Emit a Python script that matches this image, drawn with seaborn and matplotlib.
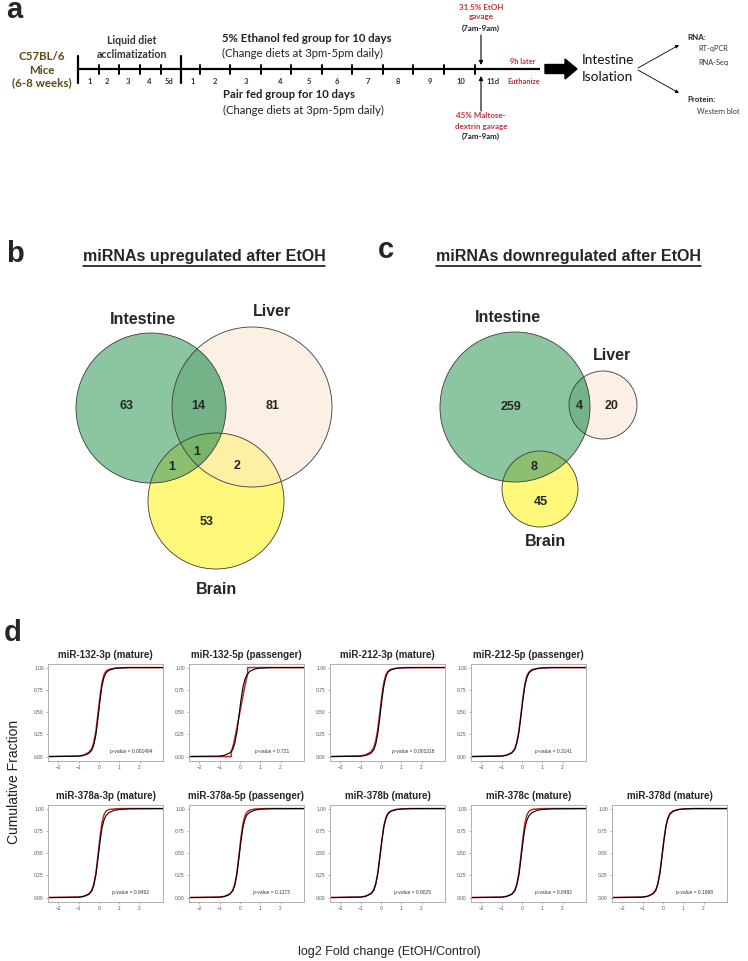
import numpy as np
import matplotlib
matplotlib.use("Agg")
import matplotlib.pyplot as plt
from matplotlib.patches import Circle, Polygon, FancyArrow
import seaborn as sns

# ---------------- data ----------------
# (a) study design timeline
acclim_days = ["1", "2", "3", "4", "5d"]
feeding_days = ["1", "2", "3", "4", "5", "6", "7", "8", "9", "10", "11d"]

# (b) miRNAs upregulated after EtOH (I = intestine, L = liver, B = brain)
up_regions = ["I", "IL", "L", "ILB", "IB", "LB", "B"]
up_counts = [63, 14, 81, 1, 1, 2, 53]

# (c) miRNAs downregulated after EtOH
down_regions = ["I", "IL", "L", "IB", "B"]
down_counts = [259, 4, 20, 8, 45]

# (d) cumulative fraction of log2 fold change
mirna_names = [
    "miR-132-3p (mature)", "miR-132-5p (passenger)", "miR-212-3p (mature)",
    "miR-212-5p (passenger)", "miR-378a-3p (mature)", "miR-378a-5p (passenger)",
    "miR-378b (mature)", "miR-378c (mature)", "miR-378d (mature)",
]
p_values = ["0.001494", "0.721", "0.001318", "0.3141", "0.8492",
            "0.1373", "0.8025", "0.8492", "0.1068"]

cdf_x = [-2.5, -1.0, -0.75, -0.5, -0.35, -0.25, -0.15, -0.05, 0.05,
         0.15, 0.25, 0.35, 0.5, 0.75, 1.0, 1.5, 3.15]

all_genes_cdf = [
    [0, .004, .012, .035, .07, .13, .24, .42, .62, .79, .89, .94, .97, .988, .995, .999, 1],
    [0, .005, .015, .04, .08, .15, .27, .45, .63, .78, .87, .92, .96, .985, .994, .999, 1],
    [0, .004, .012, .035, .075, .14, .26, .44, .64, .80, .90, .95, .975, .99, .996, .999, 1],
    [0, .005, .014, .04, .08, .15, .27, .45, .64, .80, .89, .94, .97, .988, .995, .999, 1],
    [0, .004, .012, .035, .075, .14, .25, .43, .62, .78, .87, .92, .955, .98, .99, .997, 1],
    [0, .004, .012, .036, .076, .14, .26, .44, .63, .79, .88, .93, .96, .983, .993, .998, 1],
    [0, .005, .014, .04, .08, .15, .27, .45, .64, .80, .89, .94, .97, .988, .995, .999, 1],
    [0, .004, .012, .035, .075, .14, .25, .43, .62, .78, .87, .92, .955, .98, .99, .997, 1],
    [0, .005, .014, .04, .08, .15, .27, .45, .64, .80, .89, .94, .97, .988, .995, .999, 1],
]
target_cdf = [
    [0, .006, .016, .045, .09, .16, .28, .47, .67, .83, .92, .96, .98, .992, .997, 1, 1],
    None,
    [0, .007, .02, .05, .10, .18, .31, .50, .69, .84, .92, .96, .982, .993, .998, 1, 1],
    [0, .006, .016, .043, .085, .16, .28, .46, .66, .82, .91, .95, .978, .99, .996, 1, 1],
    [0, .005, .014, .04, .08, .15, .27, .46, .67, .84, .93, .97, .99, .996, .999, 1, 1],
    [0, .005, .014, .04, .08, .15, .27, .46, .67, .83, .92, .96, .985, .995, .998, 1, 1],
    [0, .006, .016, .044, .087, .16, .28, .46, .65, .81, .90, .95, .975, .99, .996, 1, 1],
    [0, .005, .014, .04, .08, .15, .27, .46, .67, .84, .93, .97, .99, .996, .999, 1, 1],
    [0, .005, .015, .042, .083, .155, .275, .455, .645, .805, .895, .945, .972, .989, .996, 1, 1],
]
# miR-132-5p has only a handful of targets -> step-like curve
passenger_x = [-2.5, -0.42, -0.42, -0.3, -0.15, 0.0, 0.15, 0.3, 0.38, 0.38, 3.15]
passenger_y = [0, 0, 0.05, 0.15, 0.32, 0.5, 0.68, 0.85, 0.93, 1.0, 1.0]

# ---------------- style ----------------
sns.set_theme(style="white")
plt.rcParams["font.family"] = ["Liberation Sans", "DejaVu Sans"]
CALIBRI = ["Lato", "DejaVu Sans"]
RED_TXT = "#c0323c"
RED_LINE = "#c62828"

W, H = 748, 961
fig = plt.figure(figsize=(W / 100, H / 100), dpi=100)
bg = fig.add_axes([0, 0, 1, 1])
bg.set_xlim(0, W)
bg.set_ylim(H, 0)
bg.axis("off")

# panel letters
for lab, (x, y) in zip("abcd", [(14, 18), (15, 262), (386, 258), (13, 641)]):
    bg.text(x, y, lab, fontsize=21, fontweight="bold", ha="center", va="baseline")

# ---------------- (a) timeline ----------------
line_y = 69
bg.plot([78, 540], [line_y, line_y], color="black", lw=1.6, solid_capstyle="butt")
for x in [78, 181]:
    bg.plot([x, x], [56, 83], color="black", lw=1.6)
small_ticks = [99, 119, 140, 161, 200, 230, 261, 291, 322, 352, 383, 413, 444, 475]
for x in small_ticks:
    bg.plot([x, x], [64.5, 73.5], color="black", lw=1.4)

acclim_x = [90, 107, 128, 149, 169]
feed_x = [193, 215, 246, 280, 309, 337, 368, 398, 430, 461, 493]
for d, x in zip(acclim_days + feeding_days, acclim_x + feed_x):
    bg.text(x, 81, d, fontsize=5.5, fontweight="bold", family=CALIBRI,
            ha="center", va="center", color="#333333")

for txt, y in [("C57BL/6", 57), ("Mice", 70), ("(6-8 weeks)", 83)]:
    bg.text(42, y, txt, fontsize=8.3, fontweight="bold", family=CALIBRI,
            ha="center", va="center", color="#5b4a16")
for txt, y in [("Liquid diet", 40), ("acclimatization", 55)]:
    bg.text(132, y, txt, fontsize=7.6, fontweight="bold", family=CALIBRI,
            ha="center", va="center", color="#333333")

bg.text(222, 38, "5% Ethanol fed group for 10 days", fontsize=8.2, fontweight="bold",
        family=CALIBRI, va="center", color="#222222")
bg.text(222, 53, "(Change diets at 3pm-5pm daily)", fontsize=8.2,
        family=CALIBRI, va="center", color="#222222")
bg.text(223, 95, "Pair fed group for 10 days", fontsize=8.2, fontweight="bold",
        family=CALIBRI, va="center", color="#222222")
bg.text(223, 110, "(Change diets at 3pm-5pm daily)", fontsize=8.2,
        family=CALIBRI, va="center", color="#222222")

# gavage notes
for txt, y, c in [("31.5% EtOH", 7, RED_TXT), ("gavage", 17, RED_TXT), ("(7am-9am)", 28, "#222222"),
                  ("45% Maltose-", 116, RED_TXT), ("dextrin gavage", 126, RED_TXT),
                  ("(7am-9am)", 136, "#222222")]:
    bg.text(481, y, txt, fontsize=5.8, fontweight="bold", family=CALIBRI,
            ha="center", va="center", color=c)
arrow_kw = dict(arrowstyle="-|>", lw=0.8, color="black", mutation_scale=6, shrinkA=0, shrinkB=0)
bg.annotate("", xy=(481, 65), xytext=(481, 35), arrowprops=arrow_kw)
bg.annotate("", xy=(481, 76), xytext=(481, 111), arrowprops=arrow_kw)

bg.text(523, 61, "9h later", fontsize=5.3, fontweight="bold", family=CALIBRI,
        ha="center", va="center", color=RED_TXT)
bg.text(524, 81, "Euthanize", fontsize=5.3, fontweight="bold", family=CALIBRI,
        ha="center", va="center", color=RED_TXT)

bg.add_patch(FancyArrow(545, line_y, 20, 0, width=9, head_width=20, head_length=12,
                        color="black", length_includes_head=False))
bg.text(582, 60, "Intestine", fontsize=9.8, family=CALIBRI, va="center", color="#111111")
bg.text(582, 77, "Isolation", fontsize=9.8, family=CALIBRI, va="center", color="#111111")

thin_kw = dict(arrowstyle="-|>", lw=0.6, color="black", mutation_scale=5, shrinkA=0, shrinkB=0)
bg.annotate("", xy=(679, 45), xytext=(638, 68), arrowprops=thin_kw)
bg.annotate("", xy=(679, 93), xytext=(638, 70), arrowprops=thin_kw)

bg.text(687, 37, "RNA:", fontsize=5.8, fontweight="bold", family=CALIBRI, va="center")
bg.text(713, 49, "RT-qPCR", fontsize=5.3, family=CALIBRI, ha="center", va="center", color="#333333")
bg.text(713, 62, "RNA-Seq", fontsize=5.3, family=CALIBRI, ha="center", va="center", color="#333333")
bg.text(687, 99, "Protein:", fontsize=5.8, fontweight="bold", family=CALIBRI, va="center")
bg.text(697, 111, "Western blot", fontsize=5.3, family=CALIBRI, ha="left", va="center", color="#333333")

# ---------------- (b, c) Venn diagrams ----------------
fill_col = {"I": "#8cc6a0", "L": "#fcefe4", "B": "#fff87a",
            "IL": "#74b288", "IB": "#8cc070", "LB": "#fdf0a5", "ILB": "#78b46a"}


def circle_pts(c, n=500):
    t = np.linspace(0, 2 * np.pi, n)
    return np.column_stack([c[0] + c[2] * np.cos(t), c[1] + c[2] * np.sin(t)])


def lens(c1, c2):
    p1, p2 = circle_pts(c1), circle_pts(c2)
    a = p1[np.hypot(p1[:, 0] - c2[0], p1[:, 1] - c2[1]) <= c2[2]]
    b = p2[np.hypot(p2[:, 0] - c1[0], p2[:, 1] - c1[1]) <= c1[2]]
    pts = np.vstack([a, b])
    cen = pts.mean(axis=0)
    return pts[np.argsort(np.arctan2(pts[:, 1] - cen[1], pts[:, 0] - cen[0]))]


def draw_venn(circ, regions, counts, num_pos, labels):
    for k in ["L", "I", "B"]:
        bg.add_patch(Circle(circ[k][:2], circ[k][2], fc=fill_col[k], ec="none", zorder=1))
    for reg in regions:
        if len(reg) != 2:
            continue
        a, b = reg
        p = Circle(circ[b][:2], circ[b][2], fc=fill_col[reg], ec="none", zorder=2)
        bg.add_patch(p)
        p.set_clip_path(Circle(circ[a][:2], circ[a][2], transform=bg.transData))
    if "ILB" in regions:
        p = Circle(circ["B"][:2], circ["B"][2], fc=fill_col["ILB"], ec="none", zorder=3)
        bg.add_patch(p)
        p.set_clip_path(Polygon(lens(circ["I"], circ["L"]), transform=bg.transData))
    for k in ["I", "L", "B"]:
        bg.add_patch(Circle(circ[k][:2], circ[k][2], fc="none", ec="#3a3a3a", lw=0.6, zorder=4))
    for reg, n in zip(regions, counts):
        x, y = num_pos[reg]
        bg.text(x, y, str(n), fontsize=9, fontweight="bold", ha="center", va="center", zorder=5)
    for txt, (x, y) in labels:
        bg.text(x, y, txt, fontsize=11.5, fontweight="bold", ha="center", va="center")


up_circ = {"I": (151, 408, 75), "L": (252, 407, 80), "B": (216, 501, 68)}
up_pos = {"I": (127, 406), "IL": (198, 406), "L": (273, 406), "ILB": (197, 452),
          "IB": (172, 467), "LB": (237, 466), "B": (207, 522)}
draw_venn(up_circ, up_regions, up_counts, up_pos,
          [("Intestine", (143, 319)), ("Liver", (272, 312)), ("Brain", (217, 590))])

down_circ = {"I": (515, 407, 75), "L": (603, 405, 34), "B": (540, 489, 38)}
down_pos = {"I": (511, 407), "IL": (579, 406), "L": (612, 406), "IB": (534, 467), "B": (541, 502)}
draw_venn(down_circ, down_regions, down_counts, down_pos,
          [("Intestine", (508, 318)), ("Liver", (612, 355)), ("Brain", (546, 542))])

titles = []
for txt, x in [("miRNAs upregulated after EtOH", 204), ("miRNAs downregulated after EtOH", 569)]:
    titles.append(bg.text(x, 257, txt, fontsize=11.5, fontweight="bold", ha="center", va="center"))
fig.canvas.draw()
for t in titles:
    bb = t.get_window_extent().transformed(bg.transData.inverted())
    bg.plot([bb.x0, bb.x1], [265.5, 265.5], color="black", lw=1.1)

# ---------------- (d) cumulative fraction plots ----------------
def px_axes(left, top, width, height):
    return fig.add_axes([left / W, 1 - (top + height) / H, width / W, height / H])


panel_px = [(48, 664), (189, 664), (330, 664), (471, 664),
            (48, 805), (189, 805), (330, 805), (471, 805), (612, 805)]

for i, (left, top) in enumerate(panel_px):
    ax = px_axes(left, top, 115, 97)
    if target_cdf[i] is None:
        tx, ty = passenger_x, passenger_y
    else:
        tx, ty = cdf_x, target_cdf[i]
    sns.lineplot(x=tx, y=ty, color=RED_LINE, lw=1.1, estimator=None, sort=False, ax=ax)
    sns.lineplot(x=cdf_x, y=all_genes_cdf[i], color="black", lw=0.8,
                 estimator=None, sort=False, ax=ax)
    ax.set_xlim(-2.5, 3.15)
    ax.set_ylim(-0.05, 1.04)
    ax.set_xticks([-2, -1, 0, 1, 2])
    ax.set_yticks([0, 0.25, 0.5, 0.75, 1.0])
    ax.set_yticklabels(["0.00", "0.25", "0.50", "0.75", "1.00"])
    ax.tick_params(bottom=True, left=True, labelsize=3.5, labelcolor="#555555",
                   color="#777777", length=1.5, width=0.4, pad=1.5)
    for s in ax.spines.values():
        s.set_color("#b0b0b0")
        s.set_linewidth(0.7)
    ax.set_xlabel("")
    ax.set_ylabel("")
    ax.set_title(mirna_names[i], fontsize=7, fontweight="bold", pad=4)
    ax.text(0.72, 0.1, f"p-value = {p_values[i]}", transform=ax.transAxes,
            fontsize=3.5, color="#333333", ha="center", va="center")

bg.text(14, 782, "Cumulative Fraction", rotation=90, fontsize=10,
        ha="center", va="center", color="#222222")
bg.text(389, 952, "log2 Fold change (EtOH/Control)", fontsize=9,
        ha="center", va="center", color="#222222")

fig.savefig("out.png", dpi=100)
plt.close(fig)
